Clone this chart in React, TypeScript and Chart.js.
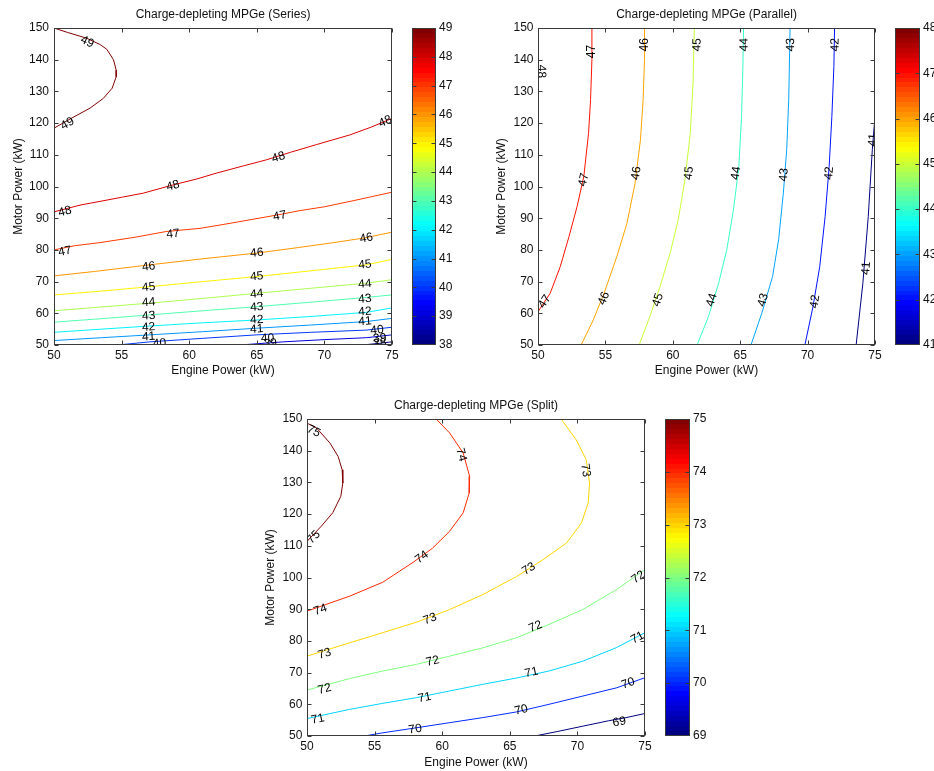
import React, { useEffect, useRef } from "react";
import { Chart, registerables } from "chart.js";
Chart.register(...registerables);

type Pt = [number, number];
type Lbl = [number, number, number];

const FONT = "Arial, 'Liberation Sans', Helvetica, sans-serif";
const TXT = "#111";
const AXIS = "#3a3a3a";

// Axis ranges / ticks
const X_MIN = 50, X_MAX = 75, X_STEP = 5;
const Y_MIN = 50, Y_MAX = 150, Y_STEP = 10;
const X_TITLE = "Engine Power (kW)";
const Y_TITLE = "Motor Power (kW)";

// ---------- Series ----------
const seriesRange: Pt = [38, 49];
const s49: Pt[] = [[50,150],[51,148.6],[52.4,146.8],[53.4,144.8],[53.9,143.3],[54.4,140],[54.6,136.7],[54.6,134.6],[54.3,131],[53.65,127.8],[52.66,124.7],[51.4,121.8],[50,118.4]];
const s48: Pt[] = [[50,92],[52,94.2],[53.4,95.3],[55,96.6],[56.6,97.9],[58.8,100.5],[60.5,102.3],[62,104.2],[64,106.5],[65.7,108.4],[67.5,110.8],[69.4,113.2],[71.9,116.3],[73.5,118.8],[75,121.5]];
const s47: Pt[] = [[50,80],[51.5,81.3],[53.4,82.3],[56,84],[58.3,85.8],[60.8,86.8],[62.5,88],[64.5,89.5],[66.5,91],[68.2,92.4],[70,93.6],[71.9,95.3],[73.5,96.8],[75,98.2]];
const s46: Pt[] = [[50,71.8],[53,73.2],[57.1,75.3],[61,77.2],[65,79],[68,80.7],[70.7,82.3],[73,83.8],[75,85.6]];
const s45: Pt[] = [[50,65.8],[53.5,67],[57.1,68.4],[61,70],[65,71.6],[69,73.4],[73.1,75.3],[75,77]];
const s44: Pt[] = [[50,60.8],[53.5,62],[57.1,63.2],[61,64.7],[65,66.3],[69,67.9],[73.1,69.5],[75,70.6]];
const s43: Pt[] = [[50,57.2],[53.5,58.3],[57.1,59.5],[61,60.8],[65,62.1],[69,63.5],[73.1,65],[75,65.8]];
const s42: Pt[] = [[50,54],[53.5,55],[57.1,56],[61,57],[65,57.9],[69,59],[73.1,60.3],[75,61.7]];
const s41: Pt[] = [[50,51.4],[53.5,52.3],[57.1,53.2],[61,54.2],[65,55.3],[69,56.3],[73.1,57.4],[75,58.4]];
const s40: Pt[] = [[54.7,50],[57.1,51],[61,52.1],[65,53.2],[69,54],[73.1,54.7],[75,55.6]];
const s39: Pt[] = [[63.75,50],[66.97,51],[70,51.7],[73.1,52.3],[75,53.2]];
const s38: Pt[] = [[72.8,50],[74,50.5],[75,51]];
const seriesContours: [number, Pt[]][] = [[49,s49],[48,s48],[47,s47],[46,s46],[45,s45],[44,s44],[43,s43],[42,s42],[41,s41],[40,s40],[39,s39],[38,s38]];
const seriesLabels: Lbl[] = [
  [49,52.45,145.6],[49,51.0,119.8],
  [48,50.8,92.1],[48,58.8,100.2],[48,66.6,109.2],[48,74.5,120.5],
  [47,50.8,79.5],[47,58.8,85],[47,66.7,90.7],
  [46,57,74.7],[46,65,79],[46,73.1,83.7],
  [45,57,68.2],[45,65,71.6],[45,73,75.3],
  [44,57,63.4],[44,65,66.1],[44,73,69.2],
  [43,57,59.2],[43,65,61.9],[43,73,64.5],
  [42,57,55.6],[42,65,57.9],[42,73,60.5],
  [41,57,52.6],[41,65,55],[41,73,57.4],
  [40,57.8,50.5],[40,65.8,52.1],[40,73.9,54.7],
  [39,66,50.5],[39,74.1,52.1],
  [38,74.1,50.5],
];

// ---------- Parallel ----------
const parallelRange: Pt = [41, 48];
const p48: Pt[] = [[50,150],[50.05,136],[50,123]];
const p47: Pt[] = [[50,60.5],[50.9,66.3],[51.65,74.7],[52.3,84.2],[52.9,93.7],[53.4,103.2],[53.75,116.8],[53.9,127.4],[54,140],[54,150]];
const p46: Pt[] = [[53.2,50],[54.1,57.9],[54.9,66.3],[55.85,77.9],[56.6,88.4],[57.2,101],[57.6,114.7],[57.8,127.4],[57.9,140],[57.9,150]];
const p45: Pt[] = [[57.5,50],[58.3,59],[59.05,68.4],[59.8,78.9],[60.4,89.5],[60.9,102.1],[61.3,116.8],[61.5,132.6],[61.6,150]];
const p44: Pt[] = [[61.8,50],[62.65,59],[63.4,69.5],[64,80],[64.5,92.6],[64.9,106.3],[65.1,122.1],[65.2,137.9],[65.25,150]];
const p43: Pt[] = [[65.8,50],[66.6,60],[67.4,71.6],[67.85,83.2],[68.2,97.9],[68.45,111.6],[68.6,127.4],[68.7,150]];
const p42: Pt[] = [[69.8,50],[70.4,62.1],[70.9,74.7],[71.3,90.5],[71.6,106.3],[71.8,122.1],[71.95,137.9],[72,150]];
const p41: Pt[] = [[73.6,50],[74.1,69.5],[74.5,90.5],[74.8,111.6],[75,122.1]];
const parallelContours: [number, Pt[]][] = [[48,p48],[47,p47],[46,p46],[45,p45],[44,p44],[43,p43],[42,p42],[41,p41]];
const parallelLabels: Lbl[] = [
  [48,50.25,136.3],
  [47,50.5,63.7],[47,53.4,102.1],[47,54,142.6],
  [46,54.9,64.7],[46,57.3,104.2],[46,57.95,144.7],
  [45,58.9,64.2],[45,61.2,104.2],[45,61.8,144.7],
  [44,62.9,64.2],[44,64.7,104.2],[44,65.3,144.7],
  [43,66.7,64.2],[43,68.25,103.7],[43,68.75,144.7],
  [42,70.55,63.7],[42,71.6,104.2],[42,72.05,144.7],
  [41,74.35,74.2],[41,74.85,114.7],
];

// ---------- Split ----------
const splitRange: Pt = [69, 75];
const sp75: Pt[] = [[50,148.7],[50.7,147.2],[51.7,142.4],[52.3,138.2],[52.6,134],[52.65,129.8],[52.5,125.6],[51.9,120.4],[51.06,116.2],[50,111.4]];
const sp74: Pt[] = [[59.55,150],[60.55,145.6],[61.55,139.3],[62.03,131.9],[62,126.7],[61.55,120.4],[60.55,114.6],[59.3,109.3],[57.85,104.8],[55.6,98.5],[53.15,94.1],[51.4,91.5],[50,89.4]];
const sp73: Pt[] = [[68.8,150],[69.9,143.5],[70.65,137.2],[70.9,129.8],[70.8,123.5],[70.3,117.2],[69.2,110.9],[67.45,105.6],[65.5,100.3],[63,94.6],[60.55,89.9],[58.1,85.9],[55.6,82.6],[53.15,79.4],[50,75.2]];
const sp72: Pt[] = [[75,102.5],[72.9,96.2],[70.4,89.9],[67.9,85.2],[65.5,81],[63,77.8],[60.55,75.2],[58.1,72.6],[55.6,70.5],[53.15,68.1],[50,64.5]];
const sp71: Pt[] = [[75,82.6],[72.9,77.9],[70.4,73.6],[67.9,70.5],[65.5,68.3],[63,66.3],[60.55,64.2],[58.1,62.1],[55.6,60.3],[53.15,58.4],[50,55.5]];
const sp70: Pt[] = [[75,68.4],[72.9,65.2],[70.4,62.6],[67.9,60],[65.5,57.6],[63,55.8],[60.55,54.2],[58.1,52.6],[55.6,51],[54.25,50]];
const sp69: Pt[] = [[66.85,50],[68.5,51.4],[70.4,53.1],[72.3,54.8],[73.6,55.8],[75,57.1]];
const splitContours: [number, Pt[]][] = [[75,sp75],[74,sp74],[73,sp73],[72,sp72],[71,sp71],[70,sp70],[69,sp69]];
const splitLabels: Lbl[] = [
  [75,50.5,146.1],[75,50.5,112.7],
  [74,61.4,138.7],[74,58.5,106.4],[74,51,89.8],
  [73,70.6,133.8],[73,66.4,102.7],[73,59.1,86.9],[73,51.3,75.9],
  [72,74.5,100.1],[72,66.9,84.5],[72,59.3,73.6],[72,51.3,64.8],
  [71,74.45,81.0],[71,66.6,70],[71,58.7,62.1],[71,50.8,55.3],
  [70,73.75,66.6],[70,65.85,58.2],[70,58,52.1],
  [69,73.1,54.4],
];

function jet(t: number): string {
  const c = (v: number) => Math.round(255 * Math.max(0, Math.min(1, v)));
  return `rgb(${c(1.5 - Math.abs(4 * t - 3))},${c(1.5 - Math.abs(4 * t - 2))},${c(1.5 - Math.abs(4 * t - 1))})`;
}

type Geo = { cl: number; ct: number; cw: number; ch: number; pl: number; pt: number; pr: number; pb: number };

function contourDecor(labels: Lbl[], contours: [number, Pt[]][]) {
  return {
    id: "contourDecor",
    afterDatasetsDraw(chart: any) {
      const { ctx, chartArea: a, scales } = chart;
      const xs = scales.x, ys = scales.y;
      ctx.save();
      ctx.beginPath();
      ctx.rect(a.left, a.top, a.right - a.left, a.bottom - a.top);
      ctx.clip();
      ctx.font = `12px ${FONT}`;
      ctx.fillStyle = "#000";
      ctx.textAlign = "center";
      ctx.textBaseline = "middle";
      for (const [lvl, lx, ly] of labels) {
        const px = xs.getPixelForValue(lx), py = ys.getPixelForValue(ly);
        let best = Infinity, ang = 0;
        for (const [l, pts] of contours) {
          if (l !== lvl) continue;
          for (let i = 0; i < pts.length - 1; i++) {
            const x1 = xs.getPixelForValue(pts[i][0]), y1 = ys.getPixelForValue(pts[i][1]);
            const x2 = xs.getPixelForValue(pts[i + 1][0]), y2 = ys.getPixelForValue(pts[i + 1][1]);
            const dx = x2 - x1, dy = y2 - y1;
            const L2 = dx * dx + dy * dy || 1;
            let t = ((px - x1) * dx + (py - y1) * dy) / L2;
            t = Math.max(0, Math.min(1, t));
            const qx = x1 + t * dx - px, qy = y1 + t * dy - py;
            const d = qx * qx + qy * qy;
            if (d < best) { best = d; ang = Math.atan2(dy, dx); }
          }
        }
        if (ang > Math.PI / 2) ang -= Math.PI;
        if (ang < -Math.PI / 2) ang += Math.PI;
        ctx.save();
        ctx.translate(px, py);
        ctx.rotate(ang);
        ctx.fillText(String(lvl), 0, 0);
        ctx.restore();
      }
      ctx.restore();
    },
    afterDraw(chart: any) {
      const { ctx, chartArea: a, scales } = chart;
      const L = Math.round(a.left) + 0.5, T = Math.round(a.top) + 0.5;
      const R = Math.round(a.right) - 0.5, B = Math.round(a.bottom) - 0.5;
      ctx.save();
      ctx.strokeStyle = AXIS;
      ctx.lineWidth = 1;
      ctx.beginPath();
      for (const tk of scales.x.ticks) {
        const p = Math.round(scales.x.getPixelForValue(tk.value)) + 0.5;
        ctx.moveTo(p, B); ctx.lineTo(p, B - 4);
        ctx.moveTo(p, T); ctx.lineTo(p, T + 4);
      }
      for (const tk of scales.y.ticks) {
        const p = Math.round(scales.y.getPixelForValue(tk.value)) + 0.5;
        ctx.moveTo(L, p); ctx.lineTo(L + 4, p);
        ctx.moveTo(R, p); ctx.lineTo(R - 4, p);
      }
      ctx.stroke();
      ctx.strokeRect(L, T, R - L, B - T);
      ctx.restore();
    },
  };
}

type ContourProps = {
  title: string; contours: [number, Pt[]][]; labels: Lbl[]; range: Pt; g: Geo;
  titlePadTop: number; yTitlePad: number; yTickPad: number; xTitlePad: number;
};

function ContourPanel(p: ContourProps) {
  const ref = useRef<HTMLCanvasElement | null>(null);
  useEffect(() => {
    const { g } = p;
    const [cmin, cmax] = p.range;
    const ax = { family: FONT, size: 12 };
    const chart = new Chart(ref.current as HTMLCanvasElement, {
      type: "scatter",
      data: {
        datasets: p.contours.map(([lvl, pts]) => ({
          label: String(lvl),
          data: pts.map(([x, y]) => ({ x, y })),
          showLine: true,
          borderColor: jet((lvl - cmin) / (cmax - cmin)),
          backgroundColor: jet((lvl - cmin) / (cmax - cmin)),
          borderWidth: 1,
          pointRadius: 0,
          pointHoverRadius: 0,
          tension: 0,
          fill: false,
        })),
      },
      options: {
        animation: false,
        responsive: false,
        maintainAspectRatio: false,
        events: [],
        layout: { padding: { left: 0, top: 0, right: g.cl + g.cw - g.pr, bottom: 0 } },
        plugins: {
          legend: { display: false },
          tooltip: { enabled: false },
          title: {
            display: true, text: p.title, fullSize: false, color: TXT,
            font: { family: FONT, size: 12, weight: "normal", lineHeight: 1.2 },
            padding: { top: p.titlePadTop, bottom: g.pt - g.ct - p.titlePadTop - 14.4 },
          },
        },
        scales: {
          x: {
            type: "linear", position: "bottom", min: X_MIN, max: X_MAX,
            ticks: { stepSize: X_STEP, color: TXT, font: ax, padding: 3.5, maxRotation: 0, autoSkip: false },
            grid: { display: false, drawTicks: false },
            border: { display: false },
            title: { display: true, text: X_TITLE, color: TXT, font: ax, padding: { top: 0, bottom: p.xTitlePad } },
            afterFit: (s: any) => { s.height = g.ct + g.ch - g.pb; },
          },
          y: {
            type: "linear", position: "left", min: Y_MIN, max: Y_MAX,
            ticks: { stepSize: Y_STEP, color: TXT, font: ax, padding: p.yTickPad, autoSkip: false },
            grid: { display: false, drawTicks: false },
            border: { display: false },
            title: { display: true, text: Y_TITLE, color: TXT, font: ax, padding: { top: p.yTitlePad, bottom: 0 } },
            afterFit: (s: any) => { s.width = g.pl - g.cl; },
          },
        },
      } as any,
      plugins: [contourDecor(p.labels, p.contours)],
    });
    return () => chart.destroy();
  }, []);
  const { g } = p;
  return (
    <canvas ref={ref} width={g.cw} height={g.ch}
      style={{ position: "absolute", left: g.cl, top: g.ct, width: g.cw, height: g.ch }} />
  );
}

type BarGeo = { cl: number; ct: number; cw: number; ch: number; bw: number; bt: number; bb: number };

const colorbarDecor = {
  id: "colorbarDecor",
  afterDraw(chart: any) {
    const { ctx, chartArea: a, scales } = chart;
    const L = Math.round(a.left) + 0.5, T = Math.round(a.top) + 0.5;
    const R = Math.round(a.right) - 0.5, B = Math.round(a.bottom) - 0.5;
    const ys = scales.y;
    ctx.save();
    ctx.strokeStyle = AXIS;
    ctx.lineWidth = 1;
    ctx.beginPath();
    for (const tk of ys.ticks) {
      if (tk.value === ys.min || tk.value === ys.max) continue;
      const p = Math.round(ys.getPixelForValue(tk.value)) + 0.5;
      ctx.moveTo(L, p); ctx.lineTo(L + 4, p);
      ctx.moveTo(R, p); ctx.lineTo(R - 4, p);
    }
    ctx.stroke();
    ctx.strokeRect(L, T, R - L, B - T);
    ctx.restore();
  },
};

function ColorbarPanel({ range, g }: { range: Pt; g: BarGeo }) {
  const ref = useRef<HTMLCanvasElement | null>(null);
  useEffect(() => {
    const [cmin, cmax] = range;
    const chart = new Chart(ref.current as HTMLCanvasElement, {
      type: "bar",
      data: {
        labels: [""],
        datasets: [{
          data: [[cmin, cmax]] as any,
          backgroundColor: (c: any) => {
            const ch = c.chart;
            const a = ch.chartArea;
            if (!a) return "rgba(0,0,0,0)";
            const grad = ch.ctx.createLinearGradient(0, a.bottom, 0, a.top);
            const n = 64;
            for (let i = 0; i < n; i++) {
              const col = jet(i / (n - 1));
              grad.addColorStop(i / n, col);
              grad.addColorStop((i + 1) / n, col);
            }
            return grad;
          },
          borderWidth: 0,
          barPercentage: 1,
          categoryPercentage: 1,
        }],
      },
      options: {
        animation: false,
        responsive: false,
        maintainAspectRatio: false,
        events: [],
        layout: { padding: { left: 0, right: 0, top: g.bt - g.ct, bottom: g.ct + g.ch - g.bb } },
        plugins: { legend: { display: false }, tooltip: { enabled: false } },
        scales: {
          x: { display: false },
          y: {
            position: "right", min: cmin, max: cmax,
            ticks: { stepSize: 1, color: TXT, font: { family: FONT, size: 12 }, padding: 3, autoSkip: false },
            grid: { display: false, drawTicks: false },
            border: { display: false },
            afterFit: (s: any) => { s.width = g.cw - g.bw; },
          },
        },
      } as any,
      plugins: [colorbarDecor],
    });
    return () => chart.destroy();
  }, []);
  return (
    <canvas ref={ref} width={g.cw} height={g.ch}
      style={{ position: "absolute", left: g.cl, top: g.ct, width: g.cw, height: g.ch }} />
  );
}

export default function App() {
  return (
    <div style={{ position: "absolute", left: 0, top: 0, width: 934, height: 771, overflow: "hidden", background: "#fff" }}>
      <ContourPanel title="Charge-depleting MPGe (Series)" contours={seriesContours} labels={seriesLabels} range={seriesRange}
        g={{ cl: 0, ct: 0, cw: 410, ch: 385, pl: 54, pt: 28, pr: 392, pb: 345 }}
        titlePadTop={7} yTitlePad={11} yTickPad={5} xTitlePad={7} />
      <ColorbarPanel range={seriesRange} g={{ cl: 412, ct: 0, cw: 46, ch: 385, bw: 24, bt: 28, bb: 345 }} />
      <ContourPanel title="Charge-depleting MPGe (Parallel)" contours={parallelContours} labels={parallelLabels} range={parallelRange}
        g={{ cl: 480, ct: 0, cw: 410, ch: 385, pl: 538, pt: 28, pr: 875, pb: 345 }}
        titlePadTop={7} yTitlePad={14} yTickPad={4.5} xTitlePad={7} />
      <ColorbarPanel range={parallelRange} g={{ cl: 895, ct: 0, cw: 47, ch: 385, bw: 25, bt: 28, bb: 345 }} />
      <ContourPanel title="Charge-depleting MPGe (Split)" contours={splitContours} labels={splitLabels} range={splitRange}
        g={{ cl: 250, ct: 390, cw: 410, ch: 381, pl: 307, pt: 419, pr: 645, pb: 736 }}
        titlePadTop={8.4} yTitlePad={13.3} yTickPad={4.6} xTitlePad={1.5} />
      <ColorbarPanel range={splitRange} g={{ cl: 665, ct: 390, cw: 47, ch: 381, bw: 25, bt: 419, bb: 736 }} />
    </div>
  );
}
